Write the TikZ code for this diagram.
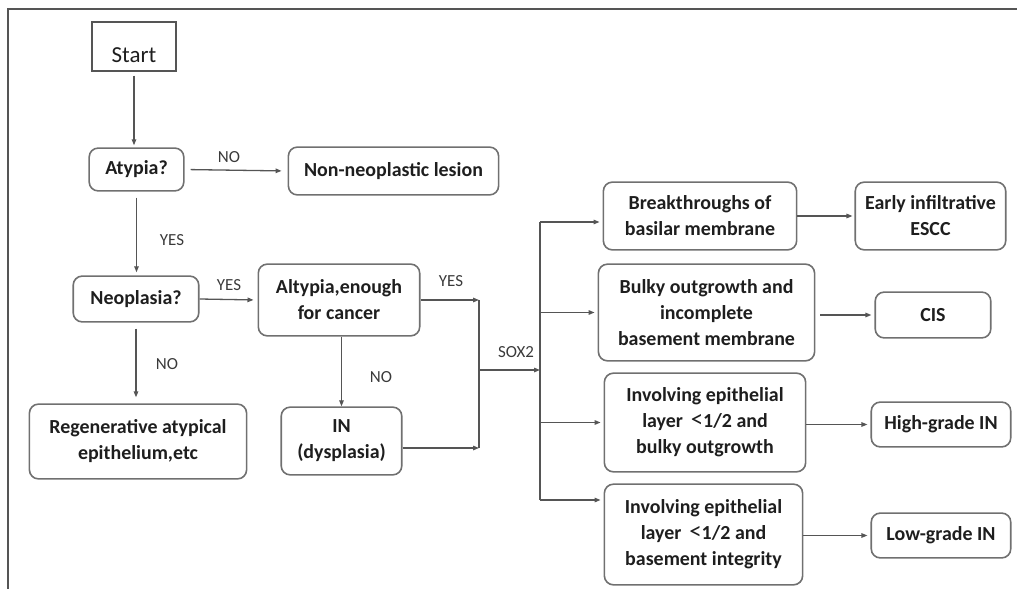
\documentclass[tikz,border=0pt]{standalone}
\usepackage{fontspec}
\setmainfont{Carlito}
\usetikzlibrary{arrows.meta}
\definecolor{boxgray}{HTML}{707070}
\definecolor{linegray}{HTML}{555555}
\definecolor{inkgray}{HTML}{1E1E1E}
\definecolor{lblgray}{HTML}{3A3A3A}

\begin{document}
\begin{tikzpicture}[x=1bp,y=-1bp,
  box/.style={draw=boxgray,line width=1.6bp,rounded corners=9bp,align=center,inner sep=0pt,
    text=inkgray,font=\bfseries\fontsize{20}{26}\selectfont},
  startbox/.style={draw=linegray,line width=1.4bp,inner sep=0pt,text=inkgray,font=\fontsize{23}{25}\selectfont},
  lbl/.style={text=lblgray,font=\fontsize{17}{19}\selectfont,inner sep=0pt},
  arr/.style={draw=linegray,line width=1.3bp,-{Triangle[length=6bp,width=4.5bp]}},
  line/.style={draw=linegray,line width=1.3bp}]
  \useasboundingbox (0,0) rectangle (1017,589);
  \draw[draw=linegray,line width=2.5bp] (8,589) -- (8,9) -- (1017,9);

  \node[startbox,minimum width=84,minimum height=49] (start) at (134,46.5) {\raisebox{-16bp}[0pt][0pt]{Start}};
  \node[box,minimum width=95,minimum height=43] (atypia) at (136.5,169.5) {Atypia?};
  \node[box,minimum width=211,minimum height=48] (nonneo) at (393.5,171) {Non-neoplastic lesion};
  \node[box,minimum width=126,minimum height=46] (neo) at (136,299) {Neoplasia?};
  \node[box,minimum width=162,minimum height=72] (alt) at (339,300) {Altypia,enough\\for cancer};
  \node[box,minimum width=218,minimum height=75] (regen) at (138,441.5) {Regenerative atypical\\epithelium,etc};
  \node[box,minimum width=121,minimum height=68] (in) at (341.5,441) {IN\\(dysplasia)};

  \node[box,minimum width=194,minimum height=68] (brk) at (700,216) {Breakthroughs of\\basilar membrane};
  \node[box,minimum width=151,minimum height=68] (early) at (930.5,216) {Early infiltrative\\ESCC};
  \node[box,minimum width=217,minimum height=97] (bulky) at (706.5,312.5) {Bulky outgrowth and\\incomplete\\basement membrane};
  \node[box,minimum width=116,minimum height=46] (cis) at (933,315) {CIS};
  \node[box,minimum width=202,minimum height=99] (inv1) at (705,422.5) {Involving epithelial\\layer \,{\fontsize{25}{26}\selectfont\mdseries <}1/2 and\\bulky outgrowth};
  \node[box,minimum width=140,minimum height=45] (high) at (941,424.5) {High-grade IN};
  \node[box,minimum width=199,minimum height=101] (inv2) at (703.5,534.5) {Involving epithelial\\layer \,{\fontsize{25}{26}\selectfont\mdseries <}1/2 and\\basement integrity};
  \node[box,minimum width=140,minimum height=45] (low) at (941,535.5) {Low-grade IN};

  \node[lbl] (noA) at (229,157) {NO};
  \node[lbl] (yesA) at (172,240) {YES};
  \node[lbl] (yesN) at (229,285) {YES};
  \node[lbl] (noN) at (167,364) {NO};
  \node[lbl] (yesC) at (451,281) {YES};
  \node[lbl] (noC) at (381,377) {NO};
  \node[lbl] (sox) at (516,352) {SOX2};

  \coordinate (jtop) at (479,300);
  \coordinate (jbot) at (479,448);
  \coordinate (jmid) at (479,370);
  \coordinate (split) at (540,370);
  \coordinate (stop) at (540,222);
  \coordinate (sbot) at (540,500);

  \draw[arr,shorten <=4bp,shorten >=2bp] (start.south) -- (start.south |- atypia.north);
  \draw[arr,shorten <=6bp,shorten >=6bp] (atypia.east) -- (nonneo.west);
  \draw[arr,shorten <=6bp,shorten >=3bp] (atypia.south) -- (atypia.south |- neo.north);
  \draw[arr,shorten >=4bp] (neo.east) -- (alt.west);
  \draw[arr,shorten <=6bp,shorten >=6bp] (neo.south) -- (neo.south |- regen.north);
  \draw[arr] (alt.south -| in.north) -- (in.north);
  \draw[arr] (alt.east) -- (jtop);
  \draw[line] (jtop) -- (jbot);
  \draw[arr] (in.east |- jbot) -- (jbot);
  \draw[arr] (jmid) -- (split);
  \draw[line] (stop) -- (sbot);
  \draw[arr,shorten >=3bp] (stop) -- (brk.west |- stop);
  \draw[arr,shorten >=3bp] (bulky.west -| stop) -- (bulky.west);
  \draw[arr,shorten >=3bp] (inv1.west -| stop) -- (inv1.west);
  \draw[arr,shorten >=3bp] (sbot) -- (inv2.west |- sbot);

  \draw[arr,shorten >=2bp] (brk) -- (early);
  \draw[arr,shorten <=5bp,shorten >=3bp] (bulky.east |- cis) -- (cis);
  \draw[arr,shorten >=3bp] (inv1.east |- high) -- (high);
  \draw[arr,shorten >=3bp] (inv2.east |- low) -- (low);
\end{tikzpicture}
\end{document}
